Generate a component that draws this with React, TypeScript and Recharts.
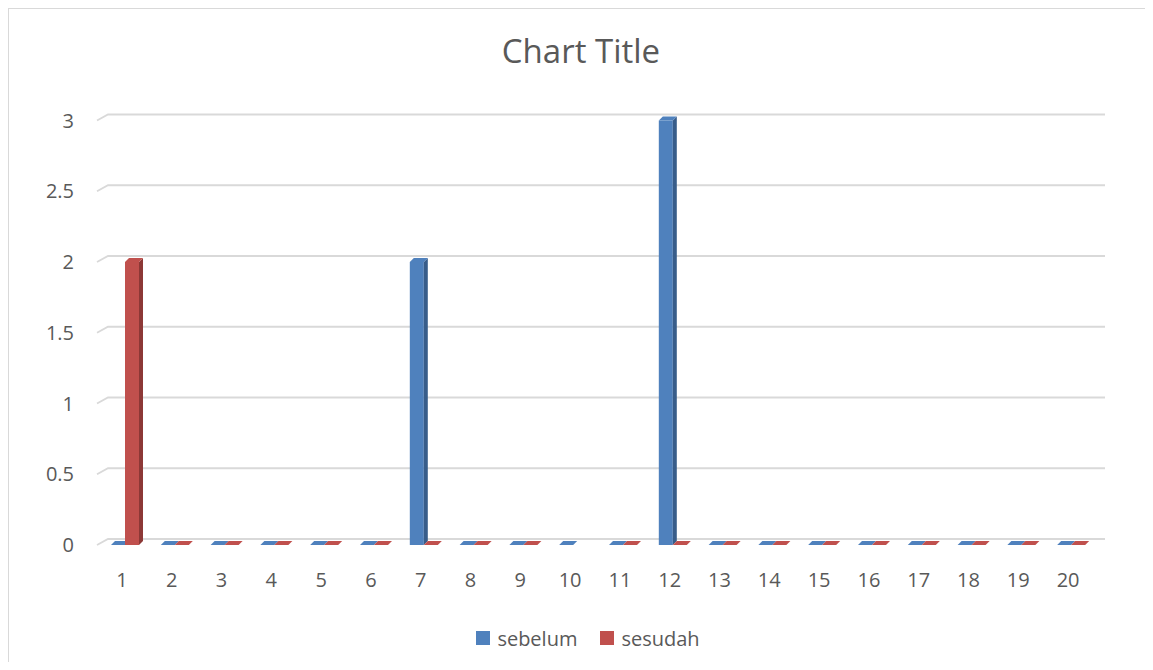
import React from "react";
import {
  Bar,
  BarChart,
  CartesianGrid,
  Legend,
  XAxis,
  YAxis,
} from "recharts";

const categories = ["1", "2", "3", "4", "5", "6", "7", "8", "9", "10", "11", "12", "13", "14", "15", "16", "17", "18", "19", "20"];
const sebelum = [0, 0, 0, 0, 0, 0, 2, 0, 0, 0, 0, 3, 0, 0, 0, 0, 0, 0, 0, 0];
const sesudah: (number | null)[] = [2, 0, 0, 0, 0, 0, 0, 0, 0, null, 0, 0, 0, 0, 0, 0, 0, 0, 0, 0];
const yTicks = [0, 0.5, 1, 1.5, 2, 2.5, 3];

const data = categories.map((name, i) => ({
  name,
  sebelum: sebelum[i],
  sesudah: sesudah[i],
}));

const textColor = "#595959";
const font = "'Open Sans', Lato, sans-serif";
const sideColors: Record<string, string> = {
  sebelum: "#385d8a",
  sesudah: "#8c3836",
};

// fake excel 3d column: front face + darker side + top
const Bar3D = (props: any) => {
  const { x, y, width, height, fill, dataKey, payload } = props;
  if (payload == null || payload[dataKey] == null) return null;
  const d = 4;
  const x0 = x + 3;
  const top = y;
  const base = y + height;
  const w = width;
  const topFace = `M${x0},${top} L${x0 + d},${top - d} L${x0 + w + d},${top - d} L${x0 + w},${top} Z`;
  if (height < 1) {
    return <path d={topFace} fill={fill} />;
  }
  const side = `M${x0 + w},${top} L${x0 + w + d},${top - d} L${x0 + w + d},${base - d} L${x0 + w},${base} Z`;
  return (
    <g>
      <rect x={x0} y={top} width={w} height={height} fill={fill} />
      <path d={side} fill={sideColors[dataKey]} />
      <path d={topFace} fill={fill} />
    </g>
  );
};

const gridLine = (p: any) => {
  const { x1, y1, x2 } = p;
  return (
    <path
      key={p.key ?? `g-${y1}`}
      d={`M${x1},${y1} L${x1 + 11},${y1 - 6} L${x2 + 12},${y1 - 6}`}
      stroke="#d9d9d9"
      strokeWidth={1.8}
      fill="none"
    />
  );
};

const renderLegend = (props: any) => {
  const items = props.payload || [];
  return (
    <div
      style={{
        display: "flex",
        justifyContent: "center",
        alignItems: "center",
        gap: 23,
        height: 30,
        paddingLeft: 22,
        fontFamily: font,
        fontSize: 20,
        color: textColor,
      }}
    >
      {items.map((it: any) => (
        <div key={it.value} style={{ display: "flex", alignItems: "center" }}>
          <span style={{ width: 14, height: 14, background: it.color, marginRight: 7, display: "inline-block" }} />
          <span>{it.value}</span>
        </div>
      ))}
    </div>
  );
};

const App = () => {
  return (
    <div
      style={{
        position: "relative",
        width: 1136,
        height: 653,
        borderLeft: "1px solid #d9d9d9",
        borderTop: "1px solid #d9d9d9",
        background: "#fff",
      }}
    >
      <div
        style={{
          position: "absolute",
          left: 0,
          top: 24.5,
          width: 1144,
          textAlign: "center",
          fontFamily: font,
          fontSize: 33,
          lineHeight: 1,
          color: textColor,
        }}
      >
        Chart Title
      </div>
      <BarChart
        width={1136}
        height={653}
        data={data}
        margin={{ top: 111.5, right: 52, left: 0, bottom: 9 }}
        barSize={14}
        barGap={0}
      >
        <CartesianGrid vertical={false} horizontal={gridLine} />
        <XAxis
          dataKey="name"
          height={78}
          tickLine={false}
          axisLine={false}
          tickSize={0}
          tickMargin={28}
          interval={0}
          tick={{ fill: textColor, fontSize: 20, fontFamily: font }}
        />
        <YAxis
          width={88}
          domain={[0, 3]}
          ticks={yTicks}
          tickLine={false}
          axisLine={false}
          tickSize={0}
          tickMargin={23}
          tick={{ fill: textColor, fontSize: 20, fontFamily: font }}
        />
        <Bar dataKey="sebelum" fill="#4f81bd" shape={Bar3D} isAnimationActive={false} />
        <Bar dataKey="sesudah" fill="#c0504d" shape={Bar3D} isAnimationActive={false} />
        <Legend verticalAlign="bottom" content={renderLegend} wrapperStyle={{ left: 0, width: 1136 }} />
      </BarChart>
    </div>
  );
};

export default App;
